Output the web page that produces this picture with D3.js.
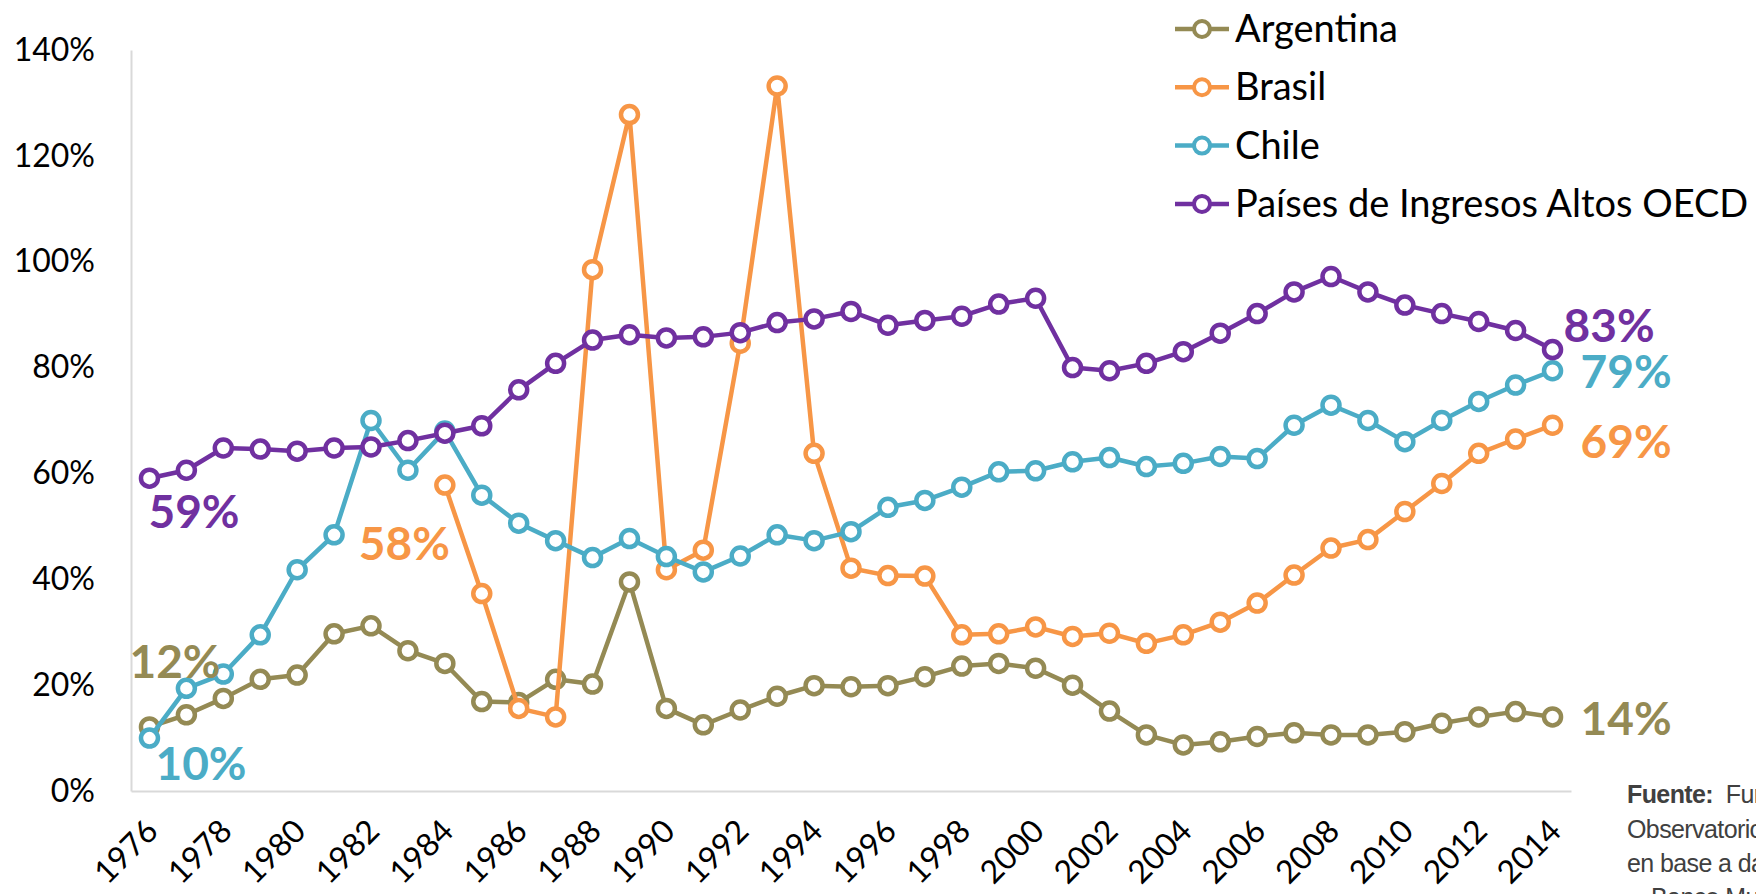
<!DOCTYPE html>
<html>
<head>
<meta charset="utf-8">
<script src="https://cdn.jsdelivr.net/npm/d3@7"></script>
<style>
  body { margin: 0; background: #fff; }
  svg { display: block; font-family: Lato, "Open Sans", sans-serif; }
  .tick text { fill: #000; }
  .fuente { font-family: "Liberation Sans Narrow", "Arial Narrow", "Liberation Sans", sans-serif; fill: #404040; font-size: 25px; letter-spacing: -0.6px; }
</style>
</head>
<body>
<svg class="chart"></svg>
<script>
// anos (categorias do eixo x)
const years = [1976, 1977, 1978, 1979, 1980, 1981, 1982, 1983, 1984, 1985, 1986, 1987, 1988, 1989,
  1990, 1991, 1992, 1993, 1994, 1995, 1996, 1997, 1998, 1999, 2000, 2001, 2002, 2003, 2004,
  2005, 2006, 2007, 2008, 2009, 2010, 2011, 2012, 2013, 2014];

// valores de cada série (%)
const argentina = [12.1, 14.4, 17.5, 21.1, 21.9, 29.7, 31.2, 26.5, 24.1, 16.9, 16.7, 21.1, 20.2, 39.5,
  15.6, 12.5, 15.3, 17.9, 19.9, 19.7, 19.9, 21.6, 23.6, 24.1, 23.2, 20.0, 15.1, 10.6, 8.7,
  9.3, 10.3, 11.0, 10.6, 10.6, 11.2, 12.8, 14.0, 15.0, 14.0];

const brasil = [null, null, null, null, null, null, null, null, 57.8, 37.3, 15.6, 14.0, 98.5, 127.8,
  41.8, 45.5, 84.6, 133.2, 63.8, 42.1, 40.7, 40.6, 29.5, 29.7, 31.0, 29.2, 29.8, 27.9, 29.5,
  31.9, 35.5, 40.8, 45.9, 47.5, 52.8, 58.1, 63.8, 66.5, 69.1];

const chile = [10.0, 19.4, 22.1, 29.5, 41.8, 48.4, 70.0, 60.6, 68.0, 55.9, 50.6, 47.3, 44.1, 47.7,
  44.3, 41.4, 44.4, 48.4, 47.3, 49.0, 53.6, 54.9, 57.4, 60.3, 60.5, 62.2, 63.0, 61.3, 61.9,
  63.2, 62.8, 69.1, 72.9, 70.0, 66.0, 70.0, 73.6, 76.7, 79.4];

const oecd = [59.1, 60.6, 64.8, 64.6, 64.2, 64.8, 65.0, 66.2, 67.6, 69.0, 75.8, 80.8, 85.2, 86.2,
  85.6, 85.8, 86.6, 88.5, 89.2, 90.6, 88.0, 88.9, 89.7, 92.0, 93.1, 80.0, 79.4, 80.8, 83.0,
  86.5, 90.2, 94.3, 97.2, 94.3, 91.8, 90.2, 88.7, 87.0, 83.4];

const seriesNames = ["Argentina", "Brasil", "Chile", "Países de Ingresos Altos OECD"];
const seriesColors = ["#948A54", "#F79646", "#4BACC6", "#7030A0"];

// rótulos do eixo
const yTicks = [0, 20, 40, 60, 80, 100, 120, 140];
const xTicks = years.filter(y => y % 2 == 0);

// junta as séries num formato que o d3 consegue usar
const series = [argentina, brasil, chile, oecd].map((vals, i) => ({
  name: seriesNames[i],
  color: seriesColors[i],
  values: years.map((yr, j) => ({ year: yr, v: vals[j] }))
}));

const w = 1756;
const h = 894;

const svg = d3.select('svg.chart')
  .attr('width', w)
  .attr('height', h)
  .attr('viewBox', `0 0 ${w} ${h}`);

// escalas
const x = d3.scaleLinear().domain([1975.5, 2014.5]).range([131, 1571]);
const y = d3.scaleLinear().domain([0, 140]).range([791, 50]);

// eixo y
const yAxis = svg.append('g')
  .attr('transform', 'translate(131,0)')
  .call(d3.axisLeft(y).tickValues(yTicks).tickSize(0).tickPadding(36).tickFormat(d => d + '%'));
yAxis.select('.domain').attr('stroke', '#D9D9D9').attr('stroke-width', 2);
yAxis.selectAll('text').attr('font-size', 32).attr('font-family', 'Lato');

// eixo x
const xAxis = svg.append('g')
  .attr('transform', 'translate(0,791)')
  .call(d3.axisBottom(x).tickValues(xTicks).tickSize(0).tickFormat(d3.format('d')));
xAxis.select('.domain').attr('stroke', '#D9D9D9').attr('stroke-width', 2);
xAxis.selectAll('text')
  .attr('font-size', 32)
  .attr('font-family', 'Lato')
  .attr('text-anchor', 'end')
  .attr('dy', 0)
  .attr('y', 0)
  .attr('transform', 'translate(10,42) rotate(-45)');

// linhas
const line = d3.line()
  .defined(d => d.v != null)
  .x(d => x(d.year))
  .y(d => y(d.v));

const groups = svg.selectAll('g.serie')
  .data(series)
  .join('g')
  .classed('serie', true);

groups.append('path')
  .attr('d', d => line(d.values))
  .attr('fill', 'none')
  .attr('stroke', d => d.color)
  .attr('stroke-width', 4.5)
  .attr('stroke-linejoin', 'round');

groups.each(function (s) {
  d3.select(this).selectAll('circle')
    .data(s.values.filter(d => d.v != null))
    .join('circle')
    .attr('cx', d => x(d.year))
    .attr('cy', d => y(d.v))
    .attr('r', 8.5)
    .attr('fill', '#fff')
    .attr('stroke', s.color)
    .attr('stroke-width', 4.5);
});

// rótulos de valor (início e fim de cada série), deslocados a partir do ponto
const labels = [
  { s: 3, year: 1976, dx: -1, dy: 50, anchor: 'start' },
  { s: 2, year: 1976, dx: 6, dy: 42, anchor: 'start' },
  { s: 0, year: 1976, dx: -20, dy: -49, anchor: 'start' },
  { s: 1, year: 1984, dx: 5, dy: 75, anchor: 'end' },
  { s: 3, year: 2014, dx: 11, dy: -8, anchor: 'start' },
  { s: 2, year: 2014, dx: 28, dy: 17, anchor: 'start' },
  { s: 1, year: 2014, dx: 28, dy: 33, anchor: 'start' },
  { s: 0, year: 2014, dx: 28, dy: 18, anchor: 'start' }
];

svg.selectAll('text.rotulo')
  .data(labels)
  .join('text')
  .classed('rotulo', true)
  .attr('x', d => x(d.year) + d.dx)
  .attr('y', d => y(series[d.s].values.find(p => p.year == d.year).v) + d.dy)
  .attr('text-anchor', d => d.anchor)
  .attr('font-size', 46)
  .attr('font-weight', 'bold')
  .attr('fill', d => series[d.s].color)
  .text(d => Math.round(series[d.s].values.find(p => p.year == d.year).v) + '%');

// legenda
const leg = svg.append('g').attr('transform', 'translate(1175,29)');
const item = leg.selectAll('g')
  .data(series)
  .join('g')
  .attr('transform', (d, i) => `translate(0,${i * 58.3})`);

item.append('line')
  .attr('x1', 0).attr('x2', 54)
  .attr('stroke', d => d.color)
  .attr('stroke-width', 4.5);
item.append('circle')
  .attr('cx', 27).attr('r', 8)
  .attr('fill', '#fff')
  .attr('stroke', d => d.color)
  .attr('stroke-width', 4);
item.append('text')
  .attr('x', 60)
  .attr('y', 13)
  .attr('font-size', 38)
  .attr('fill', '#000')
  .text(d => d.name);

// fonte
const fuente = svg.append('text').attr('class', 'fuente');
fuente.append('tspan').attr('x', 1627).attr('y', 803).attr('font-weight', 'bold').text('Fuente:');
fuente.append('tspan').text('\u00a0 Fundación');
svg.append('text').attr('class', 'fuente').attr('x', 1627).attr('y', 838).text('Observatorio PyME');
svg.append('text').attr('class', 'fuente').attr('x', 1627).attr('y', 872).text('en base a datos del');
svg.append('text').attr('class', 'fuente').attr('x', 1651).attr('y', 906).text('Banco Mundial');
</script>
</body>
</html>
